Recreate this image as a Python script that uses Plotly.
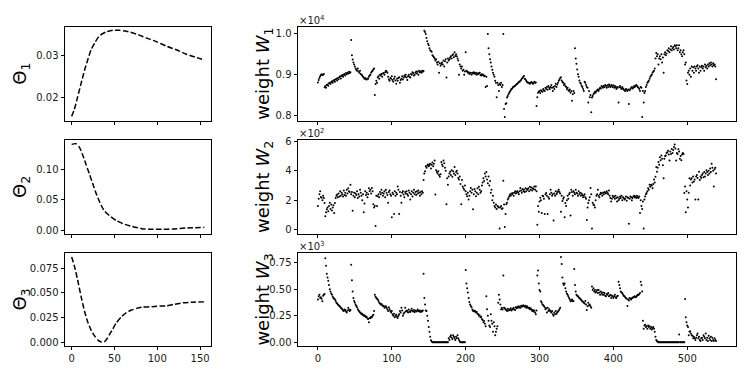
import plotly.graph_objects as go

# ---------------- data ----------------
T1_x = [0, 3, 7, 11, 15, 19, 23, 27, 32, 40, 48, 56, 64, 76, 87, 99, 111, 123, 134, 146, 155]
T1 = [0.01555, 0.0171, 0.0202, 0.0234, 0.0265, 0.0292, 0.0316, 0.0331, 0.0347, 0.0357, 0.0361,
      0.0361, 0.0359, 0.0352, 0.0343, 0.0334, 0.0323, 0.0314, 0.0304, 0.0296, 0.0290]

T2_x = [0, 5, 9, 13, 17, 21, 25, 29, 33, 38, 44, 52, 60, 70, 82, 93, 107, 119, 134, 155]
T2 = [0.1415, 0.1426, 0.137, 0.1237, 0.1076, 0.0915, 0.0753, 0.0592, 0.0457, 0.0323, 0.0242,
      0.0161, 0.0108, 0.0065, 0.0027, 0.0016, 0.0016, 0.0022, 0.0038, 0.0048]

T3_x = [0, 3, 7, 11, 15, 19, 23, 27, 31, 34, 38, 40, 44, 48, 52, 58, 64, 70, 76, 83, 91,
        103, 111, 119, 130, 142, 155]
T3 = [0.0862, 0.0778, 0.0629, 0.0463, 0.0314, 0.0199, 0.0116, 0.006, 0.0017, 0.0002, 0.0001,
      0.0017, 0.0073, 0.0132, 0.0192, 0.0255, 0.0298, 0.0324, 0.0341, 0.0354, 0.0357,
      0.0364, 0.0366, 0.0381, 0.0397, 0.0404, 0.0407]

W1 = [
    8810, 8870, 8920, 8960, 8990, 9010, 8990, 9000, 9020, 8690,
    8720, 8680, 8750, 8760, 8730, 8790, 8800, 8770, 8820, 8840,
    8800, 8850, 8870, 8830, 8880, 8900, 8860, 8920, 8890, 8940,
    8960, 8910, 8970, 8990, 8950, 9000, 9020, 8980, 9040, 9010,
    9050, 9030, 9070, 9040, 9060, 9850, 9480, 9370, 9300, 9250,
    9200, 9150, 9120, 9100, 9150, 9080, 9050, 9100, 9020, 9000,
    8980, 8950, 8930, 8900, 8920, 8890, 8880, 8910, 8900, 8950,
    8980, 9000, 9050, 9080, 9100, 9130, 9150, 8500, 8770, 8850,
    8800, 8930, 8960, 8900, 9000, 8980, 9020, 8950, 9030, 9040,
    9000, 9060, 9100, 9080, 9050, 8950, 8880, 8850, 8920, 8900,
    8960, 8870, 8830, 8900, 8950, 8860, 8780, 8900, 8850, 8920,
    8940, 8800, 8870, 8900, 8960, 8880, 8930, 8980, 8950, 9000,
    8930, 8870, 8960, 9000, 8950, 8930, 9020, 9000, 9060, 9040,
    8980, 9000, 9050, 9080, 9030, 9070, 9000, 9100, 9060, 9080,
    9050, 9100, 9070, 9090, 10080, 10050, 10000, 9900, 9820, 9760,
    9720, 9650, 9600, 9580, 9560, 9480, 9450, 9430, 9400, 9350,
    9380, 9300, 9250, 9320, 9050, 9280, 9220, 9260, 9300, 9250,
    9350, 9200, 9330, 9380, 8930, 9300, 9400, 9350, 9380, 9420,
    9450, 9400, 9480, 9500, 9430, 9550, 9460, 9500, 9450, 9400,
    9350, 9000, 9250, 9200, 9150, 9200, 9100, 9120, 9000, 9080,
    9550, 9100, 9080, 9050, 9060, 9020, 9050, 9040, 9000, 9050,
    9030, 9060, 9040, 9020, 9050, 9000, 9030, 9020, 9040, 9050,
    9000, 8980, 9010, 8990, 9000, 8960, 8970, 8700, 8950, 8720,
    10000, 9650, 9500, 9380, 9300, 9200, 9120, 9050, 9000, 8950,
    8850, 8800, 8450, 8800, 8750, 8600, 8780, 8750, 8800, 8700,
    8750, 10000, 8160, 7960, 8280, 8300, 8440, 8480, 8520, 8560,
    8590, 8620, 8650, 8660, 8690, 8700, 8720, 8730, 8750, 8770,
    8780, 8800, 8820, 8830, 8850, 8870, 8900, 8920, 8950, 8970,
    8900, 8880, 8850, 8820, 8810, 8800, 8790, 8780, 8800, 8820,
    8800, 8780, 8790, 8830, 8800, 8810, 8230, 8450, 8560, 8580,
    8600, 8550, 8620, 8600, 8580, 8650, 8620, 8600, 8680, 8650,
    8700, 8630, 8720, 8680, 8650, 8700, 8750, 8680, 8600, 8700,
    8650, 8720, 8780, 8700, 8760, 8800, 8850, 8880, 8920, 8940,
    8860, 8820, 8800, 8750, 8780, 8720, 8700, 8650, 8680, 8620,
    8600, 8640, 8560, 8600, 8360, 8520, 8600, 8550, 9650, 9400,
    9270, 9130, 9010, 8950, 8860, 8800, 8780, 8730, 8700, 8650,
    8600, 8830, 8800, 8750, 8700, 8680, 8320, 8600, 8450, 8500,
    8080, 8440, 8480, 8520, 8550, 8580, 8560, 8600, 8620, 8640,
    8600, 8650, 8680, 8660, 8720, 8700, 8680, 8730, 8700, 8750,
    8720, 8680, 8740, 8700, 8760, 8730, 8700, 8750, 8720, 8700,
    8740, 8680, 8720, 8700, 8650, 8700, 8680, 8320, 8700, 8720,
    8680, 8650, 8700, 8660, 8640, 8620, 8600, 8650, 8630, 8600,
    8640, 8280, 8620, 8650, 8680, 8700, 8660, 8680, 8720, 8700,
    8730, 8750, 8720, 8700, 8680, 8650, 8600, 8700, 8680, 7960,
    8600, 8320, 8550, 8600, 8700, 8750, 8800, 8830, 8850, 8900,
    8950, 8980, 9000, 9050, 9080, 9100, 9150, 9400, 9530, 9450,
    9500, 9250, 9400, 9450, 9380, 9500, 9300, 9420, 9050, 9500,
    9550, 9480, 9520, 9600, 9580, 9650, 9550, 9620, 9700, 9600,
    9650, 9680, 9620, 9720, 9700, 9650, 9720, 9600, 9650, 9720,
    9550, 9600, 9500, 9450, 9550, 9600, 9500, 9250, 9300, 8860,
    8770, 9050, 9100, 9000, 9150, 8950, 9200, 9100, 9180, 9050,
    9200, 9150, 9100, 9200, 9230, 9150, 9050, 9200, 9100, 9180,
    9220, 9150, 9200, 9100, 9250, 9180, 9220, 9150, 9250, 9200,
    9280, 9230, 9300, 9250, 9200, 9280, 9230, 9250, 9200, 8890,
]

W2 = [
    160, 209, 240, 260, 222, 216, 200, 230, 215, 180,
    90, 117, 139, 150, 125, 160, 183, 140, 170, 130,
    150, 165, 112, 180, 215, 230, 238, 220, 245, 225,
    260, 230, 250, 240, 225, 265, 235, 250, 230, 270,
    245, 280, 260, 255, 304, 240, 255, 128, 230, 250,
    220, 245, 235, 260, 215, 240, 225, 270, 250, 230,
    200, 240, 117, 178, 260, 235, 250, 220, 240, 280,
    260, 270, 245, 282, 260, 172, 150, 160, 24, 230,
    160, 227, 240, 220, 255, 240, 270, 250, 230, 245,
    260, 220, 270, 250, 235, 183, 255, 265, 240, 230,
    84, 250, 240, 106, 260, 230, 250, 240, 293, 270,
    106, 255, 230, 183, 250, 260, 238, 220, 255, 245,
    260, 240, 230, 265, 250, 205, 240, 260, 225, 250,
    270, 240, 255, 235, 260, 245, 265, 250, 230, 255,
    240, 260, 250, 337, 380, 395, 429, 420, 435, 442,
    430, 438, 447, 415, 440, 455, 430, 447, 469, 238,
    403, 390, 380, 395, 370, 359, 375, 458, 442, 430,
    469, 450, 420, 400, 172, 348, 304, 360, 380, 392,
    370, 403, 359, 395, 380, 425, 370, 390, 400, 380,
    350, 340, 360, 310, 172, 337, 293, 280, 271, 300,
    260, 240, 227, 250, 205, 230, 260, 282, 250, 270,
    139, 240, 275, 260, 227, 250, 280, 240, 290, 270,
    250, 260, 300, 320, 348, 330, 380, 360, 390, 340,
    315, 360, 300, 330, 250, 270, 200, 230, 183, 160,
    150, 170, 140, 160, 155, 150, 7, 150, 160, 140,
    145, 332, 170, 18, 106, 172, 183, 205, 215, 227,
    238, 230, 245, 240, 249, 230, 250, 260, 245, 255,
    260, 250, 240, 260, 282, 265, 250, 275, 260, 271,
    255, 280, 260, 275, 270, 280, 260, 290, 270, 285,
    265, 280, 275, 293, 270, 293, 260, 33, 160, 121,
    190, 216, 200, 112, 230, 227, 210, 106, 240, 249,
    230, 106, 220, 210, 240, 271, 250, 230, 240, 62,
    245, 230, 260, 240, 250, 260, 270, 255, 245, 121,
    230, 194, 210, 220, 84, 180, 160, 200, 230, 210,
    240, 250, 95, 270, 255, 230, 260, 250, 240, 271,
    250, 245, 230, 260, 240, 250, 230, 245, 235, 220,
    230, 240, 220, 210, 66, 150, 180, 200, 220, 282,
    240, 7, 183, 170, 165, 150, 200, 230, 240, 271,
    230, 220, 240, 250, 245, 230, 250, 240, 255, 250,
    245, 260, 250, 240, 265, 230, 215, 190, 210, 230,
    220, 225, 210, 230, 215, 190, 220, 200, 210, 225,
    215, 230, 200, 220, 215, 205, 210, 225, 195, 220,
    215, 40, 210, 225, 220, 200, 215, 225, 230, 220,
    225, 215, 230, 220, 215, 225, 112, 200, 160, 140,
    190, 7, 205, 225, 240, 249, 260, 280, 270, 304,
    290, 304, 300, 280, 310, 340, 320, 359, 425, 392,
    420, 458, 440, 491, 470, 502, 480, 436, 348, 480,
    500, 502, 520, 524, 535, 510, 469, 530, 513, 546,
    520, 540, 560, 577, 550, 469, 520, 513, 545, 530,
    480, 500, 470, 510, 520, 513, 249, 293, 117, 260,
    205, 150, 250, 348, 300, 340, 348, 320, 360, 326,
    340, 205, 360, 370, 350, 205, 392, 337, 360, 350,
    370, 381, 355, 390, 360, 380, 403, 390, 370, 400,
    380, 414, 390, 447, 420, 400, 293, 410, 420, 380,
]

W3 = [
    403, 433, 448, 418, 425, 410, 387, 440, 448, 455,
    793, 723, 647, 610, 580, 540, 500, 479, 460, 448,
    430, 418, 410, 403, 390, 372, 365, 357, 350, 342,
    335, 326, 318, 311, 300, 296, 310, 305, 290, 281,
    300, 326, 310, 296, 305, 732, 586, 479, 418, 390,
    372, 355, 342, 330, 311, 300, 290, 281, 275, 265,
    270, 258, 250, 255, 245, 235, 240, 225, 220, 189,
    230, 226, 240, 235, 250, 260, 296, 448, 430, 418,
    410, 403, 390, 372, 365, 357, 360, 350, 342, 345,
    326, 335, 340, 326, 311, 296, 330, 311, 296, 280,
    296, 265, 250, 270, 235, 250, 260, 240, 230, 250,
    265, 296, 280, 326, 300, 250, 270, 280, 326, 290,
    300, 296, 280, 310, 290, 285, 300, 315, 296, 290,
    305, 285, 300, 290, 296, 310, 295, 290, 300, 285,
    296, 290, 300, 647, 418, 357, 300, 296, 250, 204,
    143, 98, 52, 20, 6, 0, 0, 0, 0, 0,
    0, 0, 0, 0, 0, 0, 0, 0, 0, 0,
    0, 0, 0, 0, 0, 0, 0, 37, 21, 52,
    67, 45, 30, 67, 52, 37, 21, 52, 37, 67,
    37, 21, 6, 0, 0, 0, 0, 0, 0, 0,
    683, 555, 509, 470, 418, 380, 357, 342, 330, 310,
    296, 300, 290, 296, 281, 285, 270, 265, 250, 255,
    235, 240, 220, 210, 189, 200, 174, 150, 433, 311,
    250, 204, 159, 143, 265, 204, 174, 98, 189, 150,
    67, 98, 128, 150, 372, 448, 403, 357, 311, 326,
    310, 631, 326, 320, 310, 305, 296, 315, 300, 310,
    305, 320, 300, 310, 315, 326, 310, 305, 330, 320,
    335, 326, 340, 330, 326, 345, 335, 342, 350, 340,
    335, 345, 326, 340, 330, 320, 326, 311, 320, 310,
    296, 305, 290, 300, 281, 265, 300, 631, 677, 555,
    494, 479, 387, 372, 357, 350, 342, 330, 311, 320,
    281, 326, 296, 311, 300, 290, 281, 296, 265, 250,
    281, 265, 296, 270, 280, 290, 300, 311, 326, 805,
    738, 610, 555, 540, 555, 509, 479, 460, 448, 433,
    418, 403, 387, 395, 403, 387, 390, 692, 540, 479,
    448, 440, 433, 425, 418, 410, 403, 395, 387, 380,
    372, 365, 390, 357, 305, 340, 372, 350, 357, 340,
    326, 525, 494, 509, 480, 494, 470, 479, 494, 464,
    494, 470, 448, 479, 464, 448, 470, 448, 464, 440,
    433, 455, 448, 464, 433, 440, 448, 418, 440, 433,
    418, 433, 448, 425, 418, 433, 440, 570, 540, 509,
    479, 470, 464, 450, 440, 433, 425, 418, 410, 342,
    403, 395, 418, 410, 403, 415, 420, 425, 430, 433,
    425, 430, 440, 448, 445, 455, 464, 570, 540, 479,
    204, 128, 159, 165, 143, 150, 128, 159, 143, 150,
    128, 143, 120, 135, 143, 128, 98, 52, 21, 10,
    6, 0, 0, 0, 0, 0, 0, 0, 0, 0,
    0, 0, 0, 0, 0, 0, 0, 0, 0, 0,
    0, 0, 0, 0, 0, 0, 0, 0, 0, 73,
    0, 0, 0, 0, 0, 0, 0, 409, 235, 189,
    159, 143, 67, 98, 104, 82, 67, 61, 37, 52,
    37, 21, 43, 67, 82, 37, 52, 21, 12, 37,
    43, 21, 67, 52, 37, 82, 21, 43, 12, 61,
    37, 21, 52, 12, 43, 21, 12, 37, 21, 12,
]

W1_ticks = [8000, 9000, 10000]
W1_labels = ["0.8", "0.9", "1.0"]
W2_ticks = [0, 200, 400, 600]
W2_labels = ["0", "2", "4", "6"]
W3_ticks = [0, 250, 500, 750]
W3_labels = ["0.00", "0.25", "0.50", "0.75"]

# ---------------- layout geometry ----------------
W, H = 745, 372
left_dom = [65 / W, 211 / W]
right_dom = [298 / W, 736 / W]
rows = [(22, 118), (138, 233), (253, 347.5)]
row_dom = [[1 - b / H, 1 - t / H] for t, b in rows]

FONT = "DejaVu Sans"
fig = go.Figure()

line_style = dict(color="black", width=1.5, dash="5.5px,2.4px", shape="spline", smoothing=0.6)
mk = dict(color="black", size=2.0, line=dict(width=0))

fig.add_trace(go.Scatter(x=T1_x, y=T1, mode="lines", line=line_style, xaxis="x", yaxis="y"))
fig.add_trace(go.Scatter(x=list(range(len(W1))), y=W1, mode="markers", marker=mk, xaxis="x2", yaxis="y2"))
fig.add_trace(go.Scatter(x=T2_x, y=T2, mode="lines", line=line_style, xaxis="x3", yaxis="y3"))
fig.add_trace(go.Scatter(x=list(range(len(W2))), y=W2, mode="markers", marker=mk, xaxis="x4", yaxis="y4"))
fig.add_trace(go.Scatter(x=T3_x, y=T3, mode="lines", line=line_style, xaxis="x5", yaxis="y5"))
fig.add_trace(go.Scatter(x=list(range(len(W3))), y=W3, mode="markers", marker=mk, xaxis="x6", yaxis="y6"))

base = dict(showline=True, mirror=True, linecolor="black", linewidth=1, ticks="outside",
            ticklen=3.5, tickwidth=0.8, tickcolor="black", showgrid=False, zeroline=False,
            tickfont=dict(family=FONT, size=10, color="#1a1a1a"))

lay = {}
for i in range(3):
    xl = "xaxis" if i == 0 else f"xaxis{2 * i + 1}"
    xr = f"xaxis{2 * i + 2}"
    yl = "yaxis" if i == 0 else f"yaxis{2 * i + 1}"
    yr = f"yaxis{2 * i + 2}"
    lay[xl] = dict(base, domain=left_dom, anchor=yl.replace("axis", ""), range=[-7.75, 162.75],
                   tickvals=[0, 50, 100, 150], showticklabels=(i == 2))
    lay[xr] = dict(base, domain=right_dom, anchor=yr.replace("axis", ""), range=[-27, 566],
                   tickvals=[0, 100, 200, 300, 400, 500], showticklabels=(i == 2))
    lay[yl] = dict(base, domain=row_dom[i], anchor=xl.replace("axis", ""))
    lay[yr] = dict(base, domain=row_dom[i], anchor=xr.replace("axis", ""))

lay["yaxis"].update(range=[0.0145, 0.0370], tickvals=[0.02, 0.03], ticktext=["0.02", "0.03"])
lay["yaxis3"].update(range=[-0.0055, 0.148], tickvals=[0, 0.05, 0.10], ticktext=["0.00", "0.05", "0.10"])
lay["yaxis5"].update(range=[-0.0040, 0.0900], tickvals=[0, 0.025, 0.05, 0.075],
                     ticktext=["0.000", "0.025", "0.050", "0.075"])
lay["yaxis2"].update(range=[7870, 10180], tickvals=W1_ticks, ticktext=W1_labels)
lay["yaxis4"].update(range=[-27, 605], tickvals=W2_ticks, ticktext=W2_labels)
lay["yaxis6"].update(range=[-35, 840], tickvals=W3_ticks, ticktext=W3_labels)

annotations = []
theta_labels = ["Θ<sub>1</sub>", "Θ<sub>2</sub>", "Θ<sub>3</sub>"]
w_labels = ["weight <i>W</i><sub>1</sub>", "weight <i>W</i><sub>2</sub>", "weight <i>W</i><sub>3</sub>"]
offsets = ["×10<sup>4</sup>", "×10<sup>2</sup>", "×10<sup>3</sup>"]
for i in range(3):
    yc = (row_dom[i][0] + row_dom[i][1]) / 2
    annotations.append(dict(text=theta_labels[i], x=21 / W, y=yc, xref="paper", yref="paper",
                            textangle=-90, showarrow=False, xanchor="center", yanchor="middle",
                            font=dict(family=FONT, size=18, color="black")))
    annotations.append(dict(text=w_labels[i], x=264 / W, y=yc, xref="paper", yref="paper",
                            textangle=-90, showarrow=False, xanchor="center", yanchor="middle",
                            font=dict(family=FONT, size=18, color="black")))
    annotations.append(dict(text=offsets[i], x=297 / W, y=row_dom[i][1], xref="paper", yref="paper",
                            showarrow=False, xanchor="left", yanchor="bottom", yshift=-1,
                            font=dict(family=FONT, size=10, color="#1a1a1a")))

fig.update_layout(width=W, height=H, margin=dict(l=0, r=0, t=0, b=0), showlegend=False,
                  paper_bgcolor="white", plot_bgcolor="white", annotations=annotations, **lay)

fig.write_html("out.html", config={"displayModeBar": False},
               post_script="document.body.style.margin='0px';")
